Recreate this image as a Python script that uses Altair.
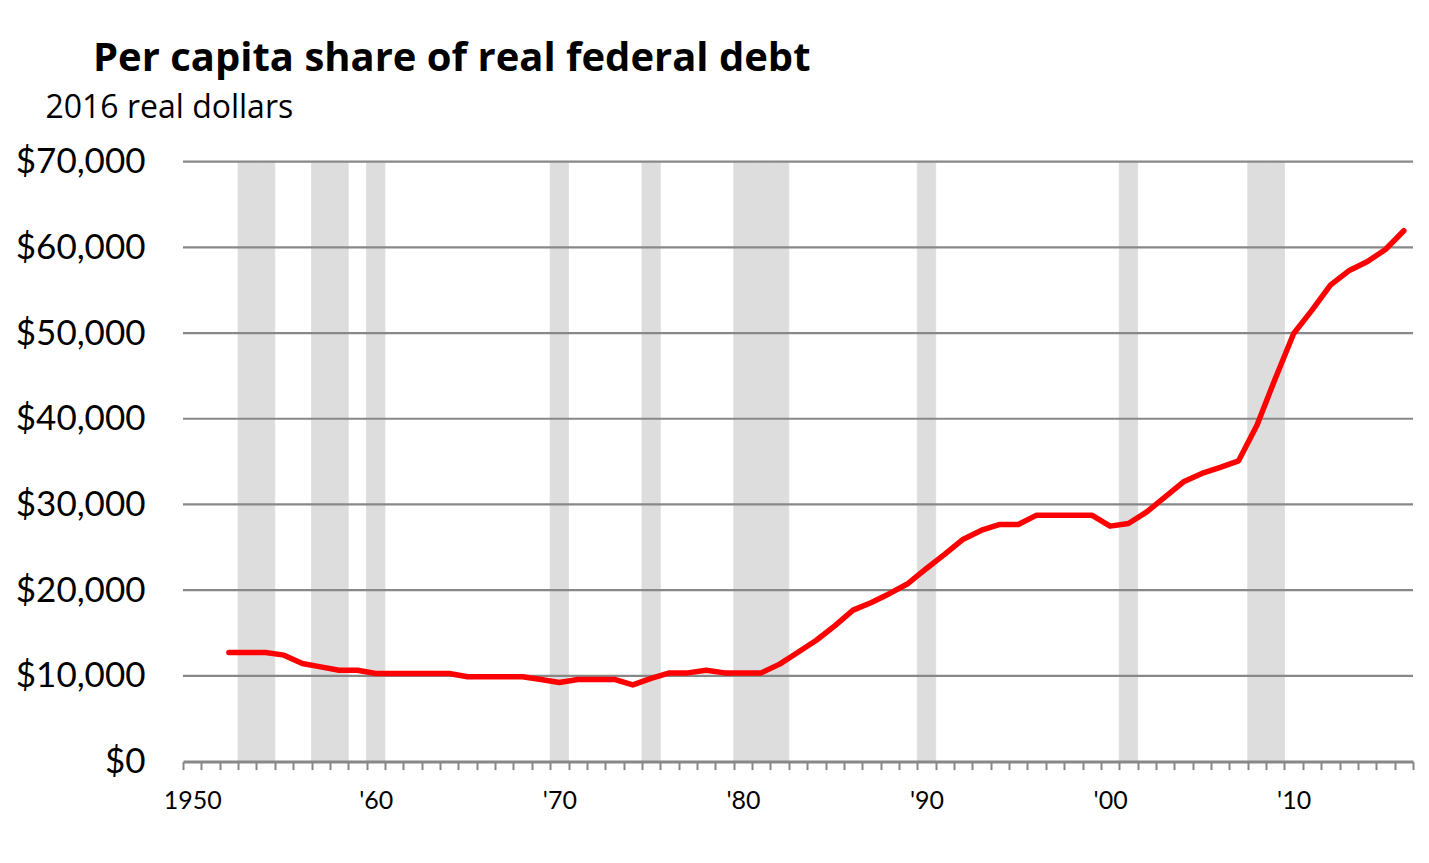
import altair as alt
import pandas as pd

all_years = list(range(1950, 2017))
years = list(range(1952, 2017))
debt = [12730, 12730, 12730, 12420, 11450, 11050, 10660, 10660, 10280, 10280,
        10280, 10280, 10280, 9890, 9890, 9890, 9890, 9580, 9230, 9580,
        9580, 9580, 8950, 9700, 10350, 10350, 10660, 10350, 10350, 10350,
        11370, 12750, 14160, 15840, 17670, 18570, 19620, 20780, 22530, 24200,
        25950, 27000, 27670, 27670, 28750, 28750, 28750, 28750, 27470, 27780,
        29140, 30890, 32640, 33620, 34320, 35090, 39250, 44700, 49950, 52670,
        55590, 57260, 58310, 59750, 61930]
recession_years = [1953, 1954, 1957, 1958, 1960, 1970, 1975, 1980, 1981, 1982,
                   1990, 2001, 2008, 2009]
grid_values = [10000, 20000, 30000, 40000, 50000, 60000, 70000]

line_df = pd.DataFrame({"year": years, "debt": debt})
rec_df = pd.DataFrame({"year": recession_years})
grid_df = pd.DataFrame({"v": grid_values})

FONT = "Lato"
TFONT = "Open Sans"

x_scale = alt.Scale(type="band", domain=all_years, paddingInner=0, paddingOuter=0)
y_scale = alt.Scale(domain=[0, 70000], nice=False)

x_axis = alt.Axis(
    title=None, labelAngle=0, tickBand="extent", tickSize=8, tickWidth=2,
    tickColor="#888888", domainColor="#888888", domainWidth=3, grid=False,
    labelOverlap=False, labelFont=FONT, labelFontSize=25, labelColor="black",
    labelPadding=19, labelBaseline="top", zindex=1,
    labelExpr="datum.value % 10 == 0 ? (datum.value == 1950 ? '1950' : \"'\" + slice(datum.label, 2)) : ''",
)
y_axis = alt.Axis(
    values=[0, 10000, 20000, 30000, 40000, 50000, 60000, 70000], format="$,d",
    grid=False, ticks=False, domain=False, labelPadding=38, labelFont=FONT,
    labelFontSize=35, labelColor="black",
    title="2016 real dollars", titleAngle=0, titleX=-138, titleY=-43.6,
    titleAlign="left", titleBaseline="alphabetic", titleFont=TFONT,
    titleFontSize=32, titleFontWeight="normal", titleColor="black",
)

bars = alt.Chart(rec_df).mark_bar(
    color="#DDDDDD", stroke="#DDDDDD", strokeWidth=0.8
).encode(
    x=alt.X("year:O", scale=x_scale, axis=x_axis),
    y=alt.Y(datum=70000, scale=y_scale, axis=y_axis),
    y2=alt.Y2(datum=0),
)
grid = alt.Chart(grid_df).mark_rule(color="#888888", strokeWidth=2.2).encode(
    y=alt.Y("v:Q", scale=y_scale, axis=y_axis),
)
line = alt.Chart(line_df).mark_line(
    color="#FF0000", strokeWidth=5.5, strokeCap="round", strokeJoin="round"
).encode(
    x=alt.X("year:O", scale=x_scale, axis=x_axis),
    y=alt.Y("debt:Q", scale=y_scale, axis=y_axis),
)

chart = alt.layer(bars, grid, line).properties(
    width=1230, height=600,
    autosize=alt.AutoSizeParams(type="none"),
    padding={"left": 175, "top": 153.6, "right": 5, "bottom": 90},
    background="white",
    title=alt.TitleParams(
        "Per capita share of real federal debt", anchor="start", frame="group",
        dx=-90, dy=43, fontSize=40, font=TFONT, fontWeight="bold", color="black",
        baseline="alphabetic", offset=24,
    ),
).configure_view(stroke=None)

chart.save("out.html", embed_options={"renderer": "svg", "actions": False})
